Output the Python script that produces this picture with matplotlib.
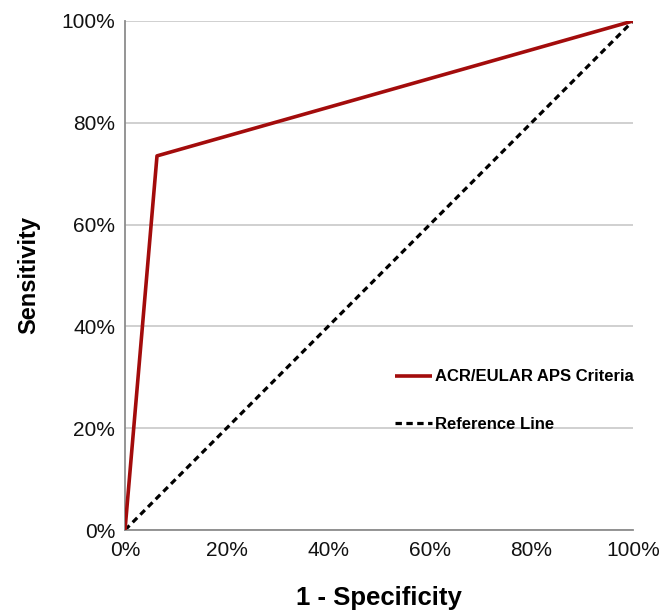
import matplotlib
matplotlib.use("Agg")
import matplotlib.pyplot as plt
from matplotlib.ticker import FuncFormatter

plt.rcParams['font.family'] = ['Liberation Sans', 'DejaVu Sans']

# ROC data
fpr = [0.0, 0.063, 1.0]
tpr = [0.0, 0.735, 1.0]
ref_x = [0.0, 1.0]
ref_y = [0.0, 1.0]
ticks = [0.0, 0.2, 0.4, 0.6, 0.8, 1.0]
series_labels = ["ACR/EULAR APS Criteria", "Reference Line"]

fig = plt.figure(figsize=(6.62, 6.12), dpi=100)
ax = fig.add_axes([125/662, 1-530/612, 508/662, 509/612])

ax.plot(fpr, tpr, color='#A30C0C', lw=2.6, label=series_labels[0], zorder=3, solid_capstyle='butt')
ax.plot(ref_x, ref_y, color='black', lw=2.3, linestyle=(0, (2.0, 1.4)), label=series_labels[1], zorder=2)

ax.set_xlim(0, 1)
ax.set_ylim(0, 1)
ax.set_xticks(ticks)
ax.set_yticks(ticks)
fmt = FuncFormatter(lambda v, p: f"{int(round(v*100))}%")
ax.xaxis.set_major_formatter(fmt)
ax.yaxis.set_major_formatter(fmt)
ax.tick_params(axis='both', length=0, labelsize=15, colors='#111111')
ax.tick_params(axis='x', pad=8)
ax.tick_params(axis='y', pad=7)

ax.yaxis.grid(True, color='#c8c8c8', lw=1.2)
ax.set_axisbelow(True)
for s in ['top', 'right']:
    ax.spines[s].set_visible(False)
for s in ['left', 'bottom']:
    ax.spines[s].set_color('#8c8c8c')
    ax.spines[s].set_linewidth(1.3)

ax.set_xlabel("1 - Specificity", fontsize=18.5, fontweight='bold', labelpad=19)
ax.set_ylabel("Sensitivity", fontsize=17, fontweight='bold', labelpad=15)

leg = ax.legend(loc='center left', bbox_to_anchor=(0.502, 0.254), frameon=False,
                prop={'size': 12, 'weight': 'bold'}, handlelength=2.2,
                handletextpad=0.2, labelspacing=1.95)

fig.savefig("out.png", dpi=100)
